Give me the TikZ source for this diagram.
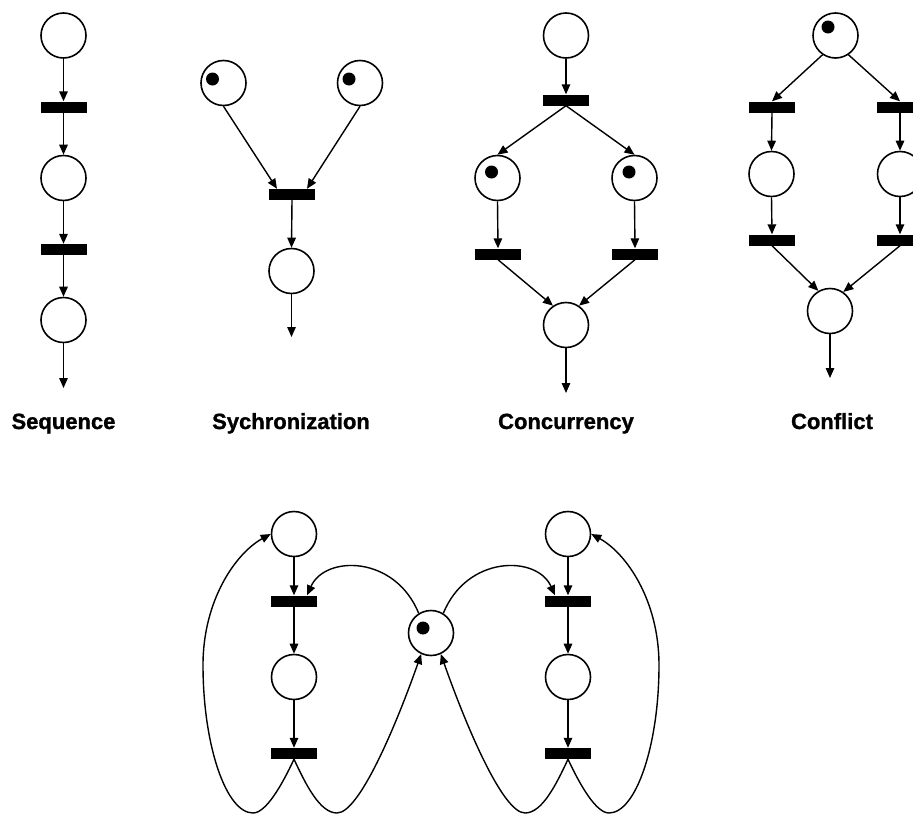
\documentclass[tikz,border=0pt]{standalone}
\usepackage{fontspec}
\setmainfont{Liberation Sans}[BoldFeatures={FakeBold=1.2}]
\usetikzlibrary{arrows.meta}

\tikzset{
  place/.style={circle,draw,line width=1.6pt,minimum size=45pt,inner sep=0pt},
  trans/.style={rectangle,fill=black,minimum width=46pt,minimum height=11pt,inner sep=0pt},
  tok/.style={circle,fill=black,minimum size=13pt,inner sep=0pt},
  arc/.style={line width=1.4pt,-{Triangle[length=10pt,width=8.5pt]}},
  lbl/.style={font=\fontsize{22}{26}\selectfont\bfseries,anchor=base,inner sep=0pt}
}

\begin{document}
\begin{tikzpicture}[x=1pt,y=-1pt]
\clip (0,0) rectangle (913,814);
\useasboundingbox (0,0) rectangle (913,814);

% ---------- Sequence ----------
\node[place] (qa) at (63.5,35.5) {};
\node[trans] (qt1) at (63.5,107) {};
\node[place] (qb) at (63.5,178) {};
\node[trans] (qt2) at (63.5,249.5) {};
\node[place] (qc) at (63.5,320) {};
\coordinate (qout) at (63.5,388);
\draw[arc] (qa.south) -- (qt1.north);
\draw[arc] (qt1.south) -- (qb.north);
\draw[arc] (qb.south) -- (qt2.north);
\draw[arc] (qt2.south) -- (qc.north);
\draw[arc] (qc.south) -- (qout);
\node[lbl] (lseq) at (63.5,429) {Sequence};

% ---------- Synchronization ----------
\node[place] (sa) at (223.5,83) {};
\node[place] (sb) at (360,83) {};
\node[tok] (sat) at (212.5,79) {};
\node[tok] (sbt) at (349,79) {};
\node[trans] (st) at (292,194.5) {};
\node[place] (sc) at (291.5,271) {};
\coordinate (sout) at (291.5,337);
\draw[arc] (sa.south) -- ([xshift=-15pt]st.north);
\draw[arc] (sb.south) -- ([xshift=15pt]st.north);
\draw[arc] (st.south) -- (sc.north);
\draw[arc] (sc.south) -- (sout);
\node[lbl] (lsyn) at (291,429) {Sychronization};

% ---------- Concurrency ----------
\node[place] (ca) at (566,35.5) {};
\node[trans] (ct) at (566,100) {};
\node[place] (cl) at (497.5,178) {};
\node[place] (cr) at (634.5,178) {};
\node[tok] (clt) at (491.5,172) {};
\node[tok] (crt) at (629,172) {};
\node[trans] (ctl) at (498,254) {};
\node[trans] (ctr) at (635,254) {};
\node[place] (cb) at (566,325) {};
\coordinate (cout) at (566,393);
\draw[arc] (ca.south) -- (ct.north);
\draw[arc] (ct.south) -- (cl.north);
\draw[arc] (ct.south) -- (cr.north);
\draw[arc] (cl.south) -- (ctl.north);
\draw[arc] (cr.south) -- (ctr.north);
\draw[arc] (ctl.south) -- (cb.124);
\draw[arc] (ctr.south) -- (cb.56);
\draw[arc] (cb.south) -- (cout);
\node[lbl] (lcon) at (566,429) {Concurrency};

% ---------- Conflict ----------
\node[place] (fa) at (835.5,35.5) {};
\node[tok] (fat) at (828,27) {};
\node[trans] (fl1) at (772,107) {};
\node[trans] (fr1) at (900,107) {};
\node[place] (fl) at (771.5,174) {};
\node[place] (fr) at (900,174) {};
\node[trans] (fl2) at (772,240) {};
\node[trans] (fr2) at (900,240) {};
\node[place] (fb) at (830,311) {};
\coordinate (fout) at (830,378);
\draw[arc] (fa.236) -- (fl1.north);
\draw[arc] (fa.304) -- (fr1.north);
\draw[arc] (fl1.south) -- (fl.north);
\draw[arc] (fr1.south) -- (fr.north);
\draw[arc] (fl.south) -- (fl2.north);
\draw[arc] (fr.south) -- (fr2.north);
\draw[arc] (fl2.south) -- (fb.120);
\draw[arc] (fr2.south) -- (fb.55);
\draw[arc] (fb.south) -- (fout);
\node[lbl] (lcfl) at (832,429) {Conflict};

% ---------- Mutual exclusion ----------
\node[place] (m1) at (294,534) {};
\node[trans] (mt1) at (294,601) {};
\node[place] (m2) at (294,677) {};
\node[trans] (mt2) at (294,753.5) {};
\node[place] (n1) at (568,534) {};
\node[trans] (nt1) at (568,601) {};
\node[place] (n2) at (568,677) {};
\node[trans] (nt2) at (568,753.5) {};
\node[place] (mx) at (431,633) {};
\node[tok] (mxt) at (423,628) {};

\draw[arc] (m1.south) -- (mt1.north);
\draw[arc] (mt1.south) -- (m2.north);
\draw[arc] (m2.south) -- (mt2.north);
\draw[arc] (n1.south) -- (nt1.north);
\draw[arc] (nt1.south) -- (n2.north);
\draw[arc] (n2.south) -- (nt2.north);

% shared place to the upper transitions
\draw[arc] (mx.122) .. controls (395,555) and (325,555) .. ([xshift=13pt]mt1.north);
\draw[arc] (mx.58) .. controls (467,555) and (537,555) .. ([xshift=-13pt]nt1.north);

% left process: return loops
\draw[arc] (mt2.south) .. controls (282,785) and (266,813) .. (253,813)
  .. controls (226,813) and (203,745) .. (203,665)
  .. controls (203,600) and (236,553) .. (m1.west);
\draw[arc] (mt2.south) .. controls (306,785) and (320,813) .. (337,813)
  .. controls (360,813) and (398,720) .. (mx.245);

% right process: return loops
\draw[arc] (nt2.south) .. controls (580,785) and (596,813) .. (609,813)
  .. controls (636,813) and (659,745) .. (659,665)
  .. controls (659,600) and (626,553) .. (n1.east);
\draw[arc] (nt2.south) .. controls (556,785) and (542,813) .. (525,813)
  .. controls (502,813) and (464,720) .. (mx.295);
\end{tikzpicture}
\end{document}
